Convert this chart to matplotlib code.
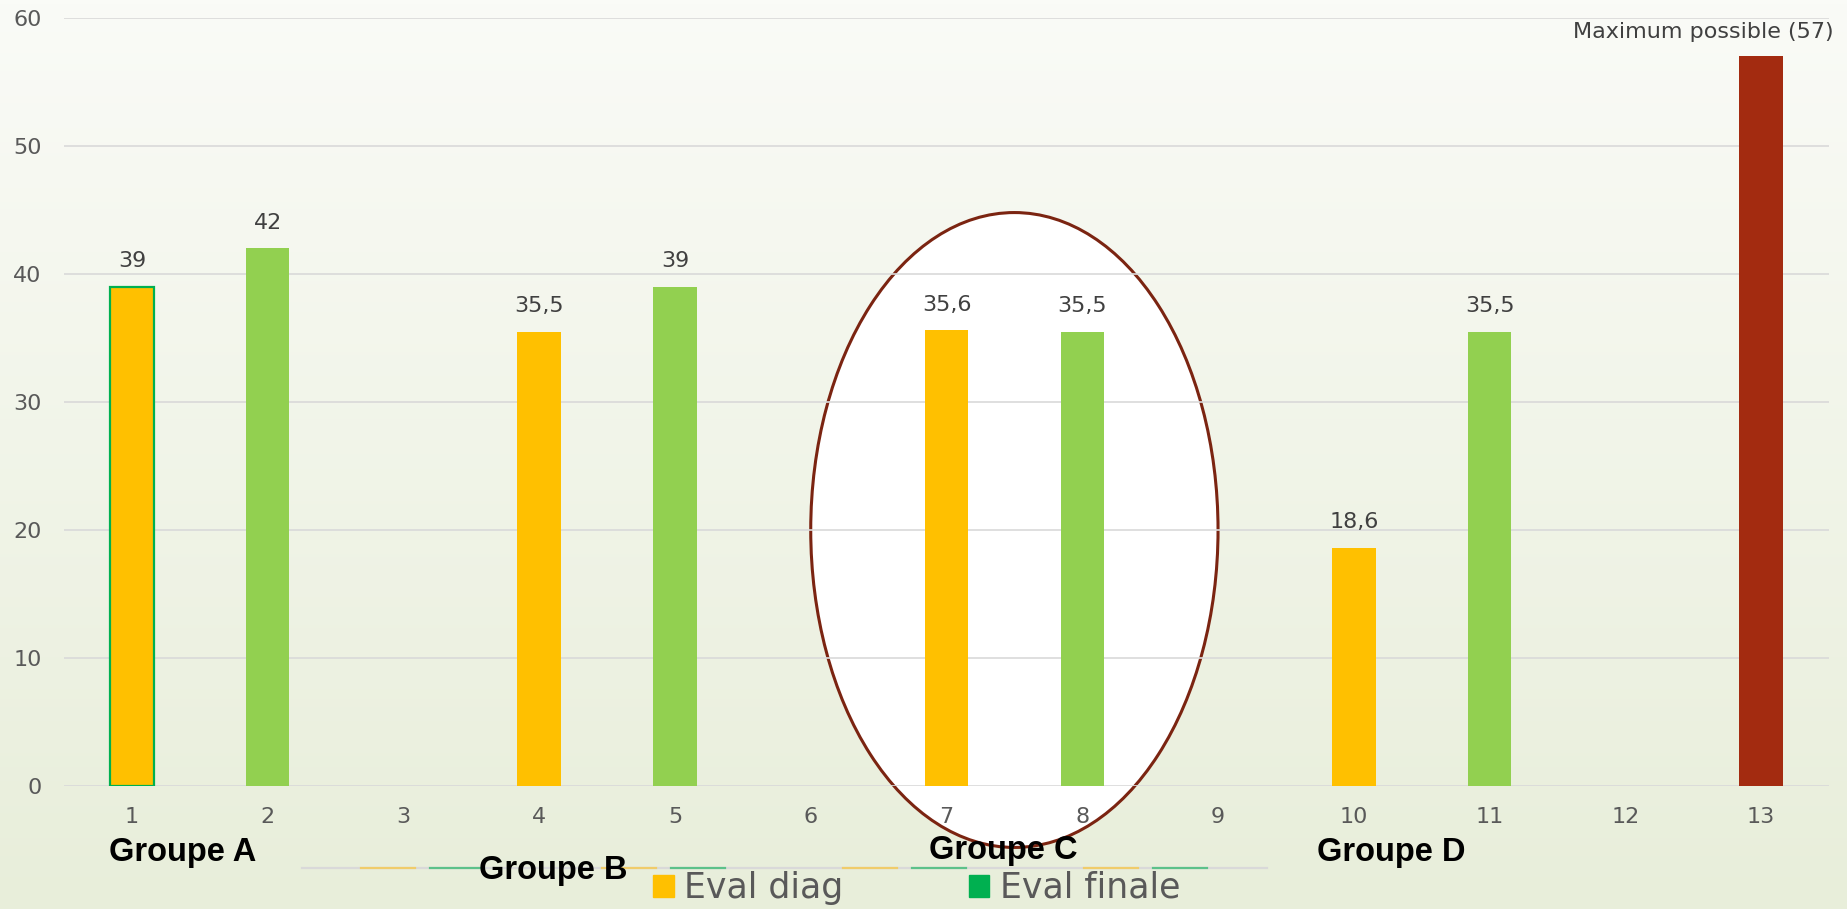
import matplotlib.pyplot as plt
import numpy as np
from matplotlib.lines import Line2D
from matplotlib.patches import Ellipse, Patch

CATEGORIES = [str(i) for i in range(1, 14)]

EVAL_DIAG = [39, np.nan, np.nan, 35.5, np.nan, np.nan, 35.6, np.nan, np.nan, 18.6, np.nan, np.nan, np.nan]
EVAL_FINALE = [np.nan, 42, np.nan, np.nan, 39, np.nan, np.nan, 35.5, np.nan, np.nan, 35.5, np.nan, np.nan]
MAXIMUM = [np.nan] * 12 + [57]

GROUPS = ["Groupe A", "Groupe B", "Groupe C", "Groupe D"]

YELLOW = "#FFC000"
LIGHT_GREEN = "#92D050"
GREEN = "#00B050"
DARK_RED = "#A32B10"
TEXT_GREY = "#595959"
GRID_GREY = "#D9D9D9"

W, H = 1847, 909


def fmt(v):
    return f"{v:g}".replace(".", ",")


def main() -> None:
    plt.rcParams["font.family"] = ["DejaVu Sans"]
    fig = plt.figure(figsize=(W / 100, H / 100), dpi=100)

    # soft vertical gradient behind everything
    bg = fig.add_axes([0, 0, 1, 1], zorder=-1)
    top = np.array([250, 251, 247]) / 255
    bottom = np.array([232, 238, 218]) / 255
    t = np.linspace(0, 1, 256)[:, None, None]
    grad = top * (1 - t) + bottom * t
    bg.imshow(np.repeat(grad, 2, axis=1), aspect="auto", extent=[0, 1, 0, 1])
    bg.axis("off")

    ax = fig.add_axes([64 / W, 123 / H, 1765 / W, 768 / H])
    ax.set_facecolor("none")
    x = np.arange(len(CATEGORIES))

    # highlight ellipse around group C
    ax.add_patch(
        Ellipse((6.5, 20), 3.0, 49.6, facecolor="white", edgecolor="#7B2411",
                linewidth=2.2, zorder=0.3, clip_on=False)
    )

    width = 0.32
    edges = [GREEN] + ["none"] * (len(x) - 1)
    ax.bar(x, EVAL_DIAG, width=width, color=YELLOW, edgecolor=edges, linewidth=1.6, zorder=2)
    ax.bar(x, EVAL_FINALE, width=width, color=LIGHT_GREEN, zorder=2)
    ax.bar(x, MAXIMUM, width=width, color=DARK_RED, zorder=2)

    for series in (EVAL_DIAG, EVAL_FINALE):
        for xi, v in zip(x, series):
            if np.isnan(v):
                continue
            ax.annotate(fmt(v), (xi, v), xytext=(0, 18.5), textcoords="offset points",
                        ha="center", va="center", fontsize=16, color="#404040")
    for xi, v in zip(x, MAXIMUM):
        if np.isnan(v):
            continue
        ax.annotate(f"Maximum possible ({fmt(v)})", (xi, v), xytext=(52, 17.5),
                    textcoords="offset points", ha="right", va="center",
                    fontsize=16, color="#404040")

    ax.set_xlim(-0.5, len(x) - 0.5)
    ax.set_ylim(0, 60)
    ax.set_yticks(range(0, 61, 10))
    ax.set_xticks(x, CATEGORIES)
    ax.tick_params(length=0, labelsize=16, labelcolor=TEXT_GREY)
    ax.tick_params(axis="x", pad=15)
    ax.tick_params(axis="y", pad=16)
    ax.set_axisbelow(True)
    ax.grid(axis="y", color=GRID_GREY, linewidth=1.2)
    for s in ax.spines.values():
        s.set_visible(False)

    # group captions under the axis
    group_pos = [(183, 852), (553, 871), (1003, 851), (1391, 852)]
    for name, (gx, gy) in zip(GROUPS, group_pos):
        fig.text(gx / W, 1 - gy / H, name, ha="center", va="center",
                 fontsize=23.5, fontweight="bold", color="black",
                 family="Liberation Sans", zorder=5)

    # leftover rule with coloured dashes behind the legend
    ly = 1 - 868 / H
    fig.add_artist(Line2D([302 / W, 1267 / W], [ly, ly], color=GRID_GREY, lw=1.6, zorder=1))
    for k in range(4):
        y0 = 361 + 241 * k
        g0 = 430 + 241 * k
        fig.add_artist(Line2D([y0 / W, (y0 + 54) / W], [ly, ly], color="#F0CC6A", lw=1.6, zorder=1))
        fig.add_artist(Line2D([g0 / W, (g0 + 54) / W], [ly, ly], color="#5CC18A", lw=1.6, zorder=1))

    handles = [Patch(color=YELLOW, label="Eval diag"), Patch(color=GREEN, label="Eval finale")]
    fig.legend(handles=handles, loc="center left", bbox_to_anchor=(653 / W, 1 - 888 / H),
               ncol=2, frameon=False, fontsize=25, labelcolor=TEXT_GREY,
               handlelength=0.6, handleheight=0.6, handletextpad=0.3,
               columnspacing=3.6, borderpad=0, borderaxespad=0)

    fig.savefig("out.png", dpi=100)
    plt.close(fig)


if __name__ == "__main__":
    main()
